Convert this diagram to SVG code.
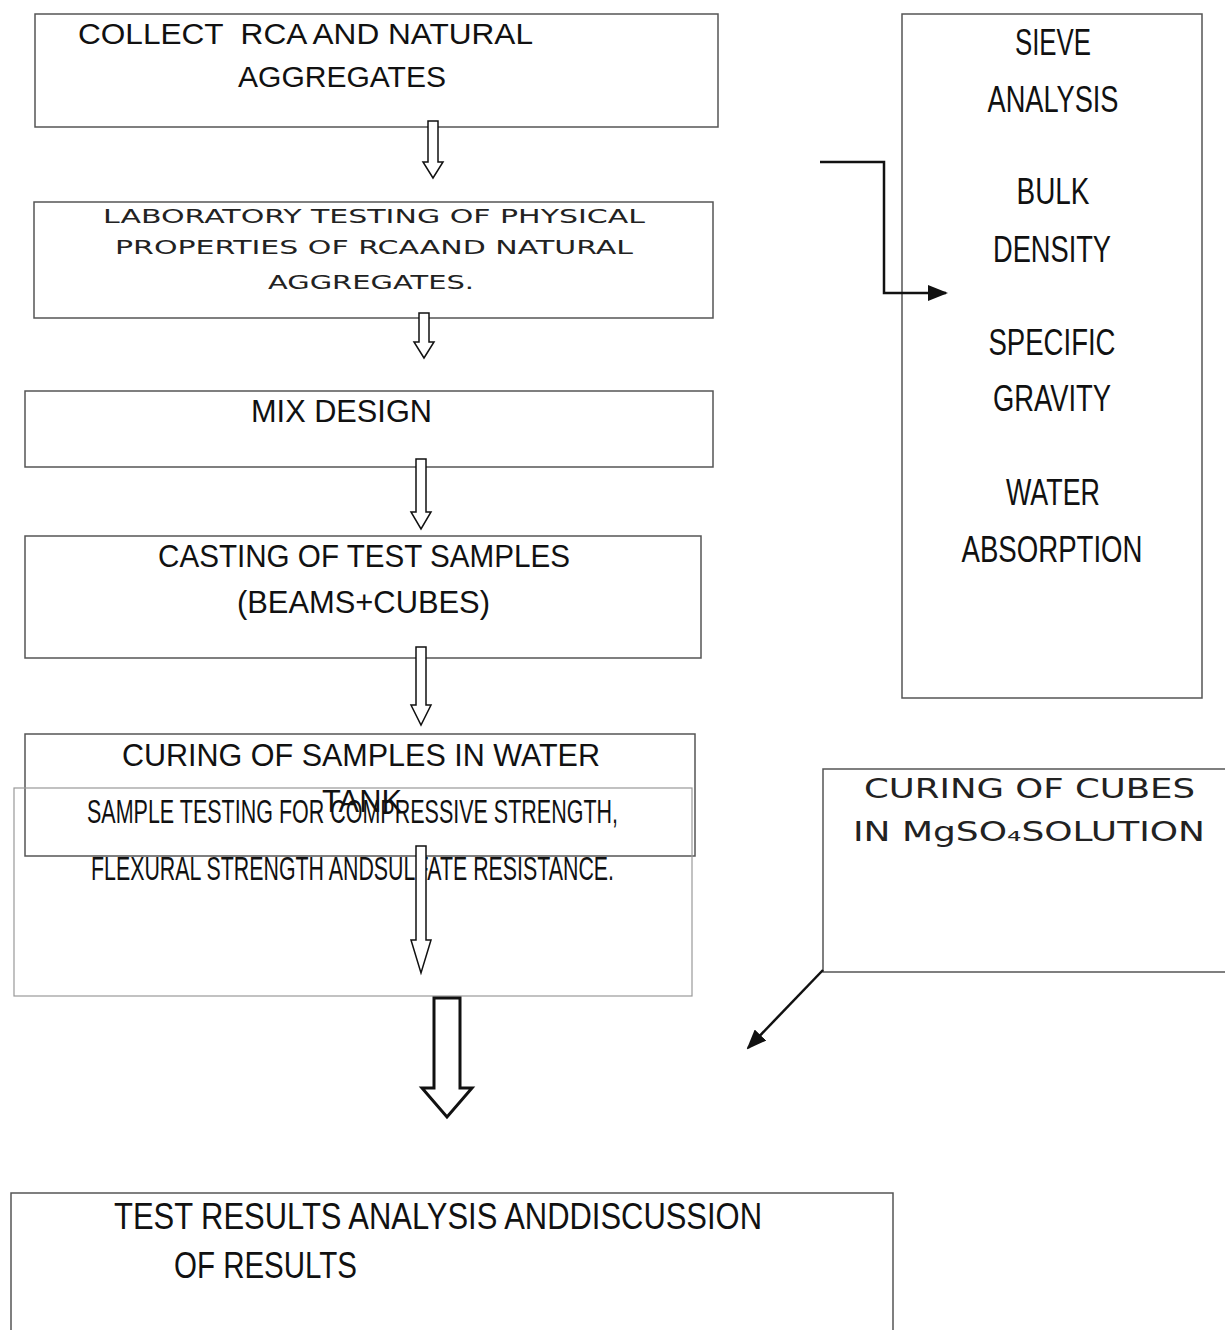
<svg xmlns="http://www.w3.org/2000/svg" width="1225" height="1330" viewBox="0 0 1225 1330">
<style>
.box{fill:none;stroke:#555;stroke-width:1.5}
.lbox{fill:none;stroke:#999;stroke-width:1.2}
.t{font-family:"Liberation Sans",Arial,sans-serif;fill:#111}
.w{font-family:"DejaVu Sans","Liberation Sans",sans-serif;fill:#222}
.ha{fill:#fff;stroke:#111;stroke-width:1.5}
.hb{fill:#fff;stroke:#111;stroke-width:3}
.ln{fill:none;stroke:#111;stroke-width:2.5}
</style>
<defs>
<marker id="ah2" markerWidth="20" markerHeight="16" refX="18" refY="8" orient="auto" markerUnits="userSpaceOnUse" viewBox="0 0 20 16">
<path d="M0,0 L20,8 L0,16 z" fill="#111"/>
</marker>
</defs>
<rect width="1225" height="1330" fill="#fff"/>

<g id="collect">
<rect class="box" x="35" y="14" width="683" height="113"/>
<text class="t" x="78" y="44" font-size="29" textLength="455" lengthAdjust="spacingAndGlyphs" xml:space="preserve">COLLECT  RCA AND NATURAL</text>
<text class="t" x="238" y="87" font-size="29" textLength="208" lengthAdjust="spacingAndGlyphs">AGGREGATES</text>
</g>

<g id="lab">
<rect class="box" x="34" y="202" width="679" height="116"/>
<text class="w" x="103" y="223" font-size="20" textLength="542" lengthAdjust="spacingAndGlyphs">LABORATORY TESTING OF PHYSICAL</text>
<text class="w" x="115" y="254" font-size="20" textLength="518" lengthAdjust="spacingAndGlyphs">PROPERTIES OF RCAAND NATURAL</text>
<text class="w" x="268" y="289" font-size="20" textLength="206" lengthAdjust="spacingAndGlyphs">AGGREGATES.</text>
</g>

<g id="mix">
<rect class="box" x="25" y="391" width="688" height="76"/>
<text class="t" x="251" y="422" font-size="31" textLength="181" lengthAdjust="spacingAndGlyphs">MIX DESIGN</text>
</g>

<g id="casting">
<rect class="box" x="25" y="536" width="676" height="122"/>
<text class="t" x="158" y="567" font-size="31" textLength="412" lengthAdjust="spacingAndGlyphs">CASTING OF TEST SAMPLES</text>
<text class="t" x="237" y="613" font-size="31" textLength="253" lengthAdjust="spacingAndGlyphs">(BEAMS+CUBES)</text>
</g>

<g id="curing">
<rect class="box" x="25" y="734" width="670" height="122"/>
<text class="t" x="122" y="766" font-size="31" textLength="478" lengthAdjust="spacingAndGlyphs">CURING OF SAMPLES IN WATER</text>
<text class="t" x="322" y="812" font-size="31" textLength="80" lengthAdjust="spacingAndGlyphs">TANK</text>
</g>

<g id="testing">
<rect class="lbox" x="14" y="788" width="678" height="208"/>
<text class="t" x="87" y="823" font-size="34" textLength="531" lengthAdjust="spacingAndGlyphs">SAMPLE TESTING FOR COMPRESSIVE STRENGTH,</text>
<text class="t" x="91" y="880" font-size="34" textLength="523" lengthAdjust="spacingAndGlyphs">FLEXURAL STRENGTH ANDSULFATE RESISTANCE.</text>
</g>

<g id="properties">
<rect class="box" x="902" y="14" width="300" height="684"/>
<g class="t" font-size="37" text-anchor="middle">
<text x="1053" y="55" textLength="76" lengthAdjust="spacingAndGlyphs">SIEVE</text>
<text x="1053" y="112" textLength="131" lengthAdjust="spacingAndGlyphs">ANALYSIS</text>
<text x="1053" y="204" textLength="73" lengthAdjust="spacingAndGlyphs">BULK</text>
<text x="1052" y="262" textLength="118" lengthAdjust="spacingAndGlyphs">DENSITY</text>
<text x="1052" y="355" textLength="127" lengthAdjust="spacingAndGlyphs">SPECIFIC</text>
<text x="1052" y="411" textLength="118" lengthAdjust="spacingAndGlyphs">GRAVITY</text>
<text x="1053" y="505" textLength="94" lengthAdjust="spacingAndGlyphs">WATER</text>
<text x="1052" y="562" textLength="181" lengthAdjust="spacingAndGlyphs">ABSORPTION</text>
</g>
</g>

<g id="cubes">
<rect class="box" x="823" y="769" width="410" height="203"/>
<text class="w" x="864" y="798" font-size="26" textLength="331" lengthAdjust="spacingAndGlyphs">CURING OF CUBES</text>
<text class="w" x="853" y="841" font-size="26" textLength="352" lengthAdjust="spacingAndGlyphs">IN MgSO₄SOLUTION</text>
</g>

<g id="results">
<rect class="box" x="11" y="1193" width="882" height="160"/>
<text class="t" x="114" y="1229" font-size="36" textLength="648" lengthAdjust="spacingAndGlyphs">TEST RESULTS ANALYSIS ANDDISCUSSION</text>
<text class="t" x="174" y="1278" font-size="36" textLength="183" lengthAdjust="spacingAndGlyphs">OF RESULTS</text>
</g>

<g id="connectors">
<polygon class="ha" points="428,121 438,121 438,162 443,162 433,178 423,162 428,162"/>
<polygon class="ha" points="419,313 429,313 429,342 434,342 424,358 414,342 419,342"/>
<polygon class="ha" points="416,459 426,459 426,512 431,512 421,529 411,512 416,512"/>
<polygon class="ha" points="416,647 426,647 426,705 431,705 421,725 411,705 416,705"/>
<polygon class="ha" points="416,846 426,846 426,940 431,940 421,973 411,940 416,940"/>
<polygon class="hb" points="434,998 460,998 460,1088 472,1088 447,1117 422,1088 434,1088"/>
<polyline class="ln" points="820,162 884,162 884,293 946,293" marker-end="url(#ah2)"/>
<line class="ln" x1="823" y1="970" x2="748" y2="1048" marker-end="url(#ah2)"/>
</g>
</svg>
